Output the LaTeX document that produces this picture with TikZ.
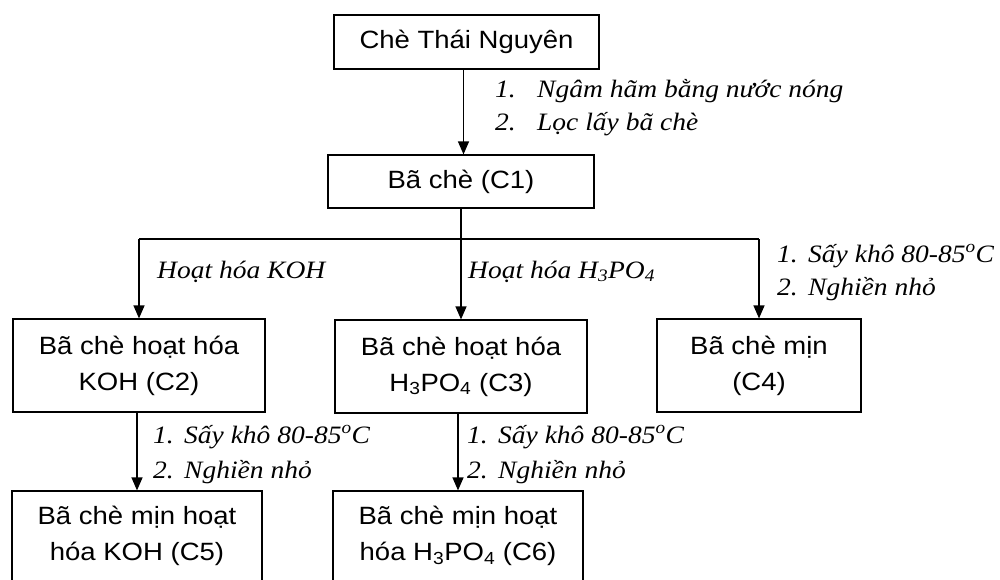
\documentclass[tikz,border=0pt]{standalone}
\usepackage{fontspec}
\setmainfont{Liberation Serif}[FakeStretch=1.1]
\setsansfont{Liberation Sans}[FakeStretch=1.1]
\usetikzlibrary{arrows.meta}
\begin{document}
\begin{tikzpicture}[x=1pt,y=-1pt,
  box/.style={draw, line width=1.2pt, align=center, inner sep=0pt, font=\sffamily\fontsize{25}{36}\selectfont},
  lbl/.style={anchor=base west, inner sep=0pt, font=\rmfamily\itshape\fontsize{25}{33}\selectfont},
  conn/.style={line width=1.2pt},
  arr/.style={line width=1.2pt, -{Triangle[width=11pt,length=13pt]}}]
\fill[white] (0,0) rectangle (1000,579);
\clip (0,0) rectangle (1000,579);
% boxes
\node[box, minimum width=265pt, minimum height=54pt] (top) at (466.5,42) {Chè Thái Nguyên};
\node[box, minimum width=266pt, minimum height=53pt] (c1) at (461,181.5) {Bã chè (C1)};
\node[box, minimum width=252pt, minimum height=93pt] (c2) at (139,365.5) {Bã chè hoạt hóa\\KOH (C2)};
\node[box, minimum width=252pt, minimum height=93pt] (c3) at (461,366.5) {Bã chè hoạt hóa\\H\textsubscript{3}PO\textsubscript{4} (C3)};
\node[box, minimum width=204pt, minimum height=93pt] (c4) at (759,365.5) {Bã chè mịn\\(C4)};
\node[box, minimum width=250pt, minimum height=90pt] (c5) at (137,536) {Bã chè mịn hoạt\\hóa KOH (C5)};
\node[box, minimum width=250pt, minimum height=90pt] (c6) at (458,536) {Bã chè mịn hoạt\\hóa H\textsubscript{3}PO\textsubscript{4} (C6)};
% connectors
\coordinate (jn) at (461,239);
\draw[arr] ([xshift=-3pt]top.south) -- ([xshift=-3pt]top.south |- c1.north);
\draw[conn] (c1.south) -- (c1.south |- jn);
\draw[conn] (c2.north |- jn) -- (c4.north |- jn);
\draw[arr] (c2.north |- jn) -- (c2.north);
\draw[arr] (c3.north |- jn) -- (c3.north);
\draw[arr] (c4.north |- jn) -- (c4.north);
\draw[arr] (c5.north |- c2.south) -- (c5.north);
\draw[arr] (c6.north |- c3.south) -- (c6.north);
% labels
\node[lbl] (s1a) at (495,97) {\makebox[42pt][l]{1.}Ngâm hãm bằng nước nóng};
\node[lbl] (s1b) at (495,130) {\makebox[42pt][l]{2.}Lọc lấy bã chè};
\node[lbl] (kohl) at (157,278) {Hoạt hóa KOH};
\node[lbl] (hpl) at (468,278) {Hoạt hóa H\textsubscript{3}PO\textsubscript{4}};
\node[lbl] (c4la) at (777,262) {\makebox[31pt][l]{1.}Sấy khô 80-85\textsuperscript{o}C};
\node[lbl] (c4lb) at (777,295) {\makebox[31pt][l]{2.}Nghiền nhỏ};
\node[lbl] (c5la) at (153,443) {\makebox[31pt][l]{1.}Sấy khô 80-85\textsuperscript{o}C};
\node[lbl] (c5lb) at (153,478) {\makebox[31pt][l]{2.}Nghiền nhỏ};
\node[lbl] (c6la) at (467,443) {\makebox[31pt][l]{1.}Sấy khô 80-85\textsuperscript{o}C};
\node[lbl] (c6lb) at (467,478) {\makebox[31pt][l]{2.}Nghiền nhỏ};
\end{tikzpicture}
\end{document}
